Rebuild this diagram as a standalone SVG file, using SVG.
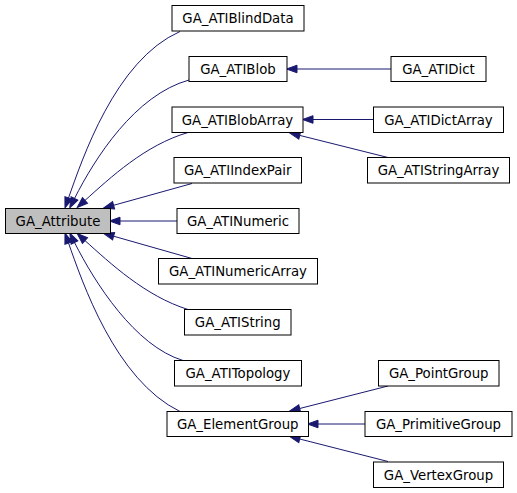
<svg xmlns="http://www.w3.org/2000/svg" width="517" height="493" viewBox="0 0 517 493">
<defs>
<marker id="ah" markerUnits="userSpaceOnUse" markerWidth="12" markerHeight="10" refX="0" refY="4" orient="auto-start-reverse" overflow="visible">
<path d="M0,0.2 L10.5,4 L0,7.8 Z" fill="#191970" stroke="#191970" stroke-width="1"/>
</marker>
</defs>
<style>
.n rect{fill:#ffffff;stroke:#000000;stroke-width:1}
.n.root rect{fill:#bfbfbf}
.n text{font-family:"DejaVu Sans",sans-serif;font-size:13.3px;fill:#000000;text-anchor:middle}
.e path{fill:none;stroke:#191970;stroke-width:1;marker-start:url(#ah)}
</style>
<rect width="517" height="493" fill="#ffffff"/>
<g id="edges" class="e">
<path d="M68.5,198 C82,160 115,60 180,31.5"/>
<path d="M74.5,198.5 C95,158 135,95 189,80"/>
<path d="M85,200.4 C110,178 145,145 188,132.5"/>
<path d="M113.6,205.3 L192,183.5"/>
<path d="M120,221 L177,221"/>
<path d="M113.6,236.2 L192,258.5"/>
<path d="M85,240.6 C110,263 145,296 188,309.5"/>
<path d="M74.5,242.5 C95,283 135,346 183,360.5"/>
<path d="M68.5,243 C82,281 115,380 180,411.5"/>
<path d="M297,69 L391,69"/>
<path d="M313,119.5 L373,119.5"/>
<path d="M299.7,135.4 L388,157.5"/>
<path d="M299.7,408.5 L388,386"/>
<path d="M318,424 L365,424"/>
<path d="M299.7,439 L388,461.5"/>
</g>
<g id="GA_Attribute" class="n root"><rect x="5.5" y="208.5" width="105" height="25"/><text x="58" y="225.5">GA_Attribute</text></g>
<g id="GA_ATIBlindData" class="n"><rect x="172" y="5.5" width="132" height="25.5"/><text x="238" y="23">GA_ATIBlindData</text></g>
<g id="GA_ATIBlob" class="n"><rect x="189" y="56.5" width="98" height="25"/><text x="238" y="73.5">GA_ATIBlob</text></g>
<g id="GA_ATIBlobArray" class="n"><rect x="172" y="107" width="131" height="25.5"/><text x="237.5" y="124.5">GA_ATIBlobArray</text></g>
<g id="GA_ATIIndexPair" class="n"><rect x="174" y="157.5" width="127.5" height="25.5"/><text x="237.75" y="175">GA_ATIIndexPair</text></g>
<g id="GA_ATINumeric" class="n"><rect x="177" y="208.5" width="122" height="25"/><text x="238" y="225.5">GA_ATINumeric</text></g>
<g id="GA_ATINumericArray" class="n"><rect x="158.5" y="258.5" width="159" height="25.5"/><text x="238" y="276">GA_ATINumericArray</text></g>
<g id="GA_ATIString" class="n"><rect x="184.5" y="309.5" width="106.5" height="25.5"/><text x="237.75" y="327">GA_ATIString</text></g>
<g id="GA_ATITopology" class="n"><rect x="174.5" y="360.5" width="127" height="25.5"/><text x="238" y="378">GA_ATITopology</text></g>
<g id="GA_ElementGroup" class="n"><rect x="167" y="411.5" width="141.5" height="25"/><text x="237.75" y="428.5">GA_ElementGroup</text></g>
<g id="GA_ATIDict" class="n"><rect x="391" y="56.5" width="95" height="25"/><text x="438.5" y="73.5">GA_ATIDict</text></g>
<g id="GA_ATIDictArray" class="n"><rect x="373.5" y="107" width="130" height="25.5"/><text x="438.5" y="124.5">GA_ATIDictArray</text></g>
<g id="GA_ATIStringArray" class="n"><rect x="367.5" y="157.5" width="142" height="25.5"/><text x="438.5" y="175">GA_ATIStringArray</text></g>
<g id="GA_PointGroup" class="n"><rect x="378.5" y="360.5" width="120.5" height="25.5"/><text x="438.75" y="378">GA_PointGroup</text></g>
<g id="GA_PrimitiveGroup" class="n"><rect x="365" y="411.5" width="147" height="25"/><text x="438.5" y="428.5">GA_PrimitiveGroup</text></g>
<g id="GA_VertexGroup" class="n"><rect x="373.5" y="462" width="130" height="25.5"/><text x="438.5" y="479.5">GA_VertexGroup</text></g>
</svg>
